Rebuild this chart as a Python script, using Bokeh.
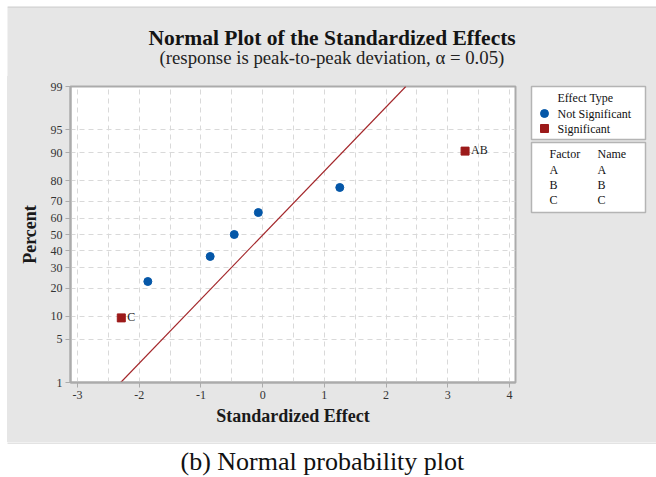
from statistics import NormalDist
from bokeh.plotting import figure
from bokeh.models import (Range1d, FixedTicker, CustomJSTickFormatter, ColumnDataSource,
                          LabelSet, Label)
from bokeh.layouts import column, row
from bokeh.embed import file_html
from bokeh.resources import INLINE

# ---------------- data ----------------
effect_names = ["C", "", "", "", "", "", "AB"]
effect_x = [-2.29, -1.86, -0.85, -0.46, -0.07, 1.25, 3.28]
effect_pct = [9.5, 23.0, 36.5, 50.0, 63.5, 77.0, 90.5]
effect_type = ["Significant", "Not Significant", "Not Significant", "Not Significant",
               "Not Significant", "Not Significant", "Significant"]

line_x = [-2.30, 2.32]
line_pct = [1.0, 99.0]

x_ticks = [-3, -2, -1, 0, 1, 2, 3, 4]
x_minor = [-2.5, -1.5, -0.5, 0.5, 1.5, 2.5, 3.5]
y_tick_pct = [1, 5, 10, 20, 30, 40, 50, 60, 70, 80, 90, 95, 99]
y_tick_labels = [str(v) for v in y_tick_pct]

legend_types = ["Not Significant", "Significant"]
factor_header = ["Factor", "Name"]
factor_codes = ["A", "B", "C"]
factor_names = ["A", "B", "C"]

title_text = "Normal Plot of the Standardized Effects"
subtitle_text = "(response is peak-to-peak deviation, \u03b1 = 0.05)"
caption_text = "(b) Normal probability plot"

# ---------------- helpers ----------------
nd = NormalDist()
def z(p):
    return nd.inv_cdf(p / 100.0)

FONT = "Liberation Serif"
BLUE = "#0557A8"
RED = "#9C1A1A"
GRID = "#D9D9D9"
AXIS = "#ABABAB"
PANEL = "#E6E6E6"
PANEL_EDGE = "#C8C8C8"

def blank(w, h, x0, y0, fill, margin):
    """A figure whose frame is its whole canvas; data units = page pixels."""
    f = figure(width=w, height=h, output_backend="svg", toolbar_location=None,
               x_axis_type=None, y_axis_type=None,
               x_range=Range1d(x0, x0 + w), y_range=Range1d(y0 + h, y0),
               min_border=0, min_border_left=0, min_border_right=0,
               min_border_top=0, min_border_bottom=0, frame_align=False)
    f.margin = margin
    f.outline_line_color = None
    f.border_fill_color = fill
    f.background_fill_color = fill
    f.xgrid.visible = False
    f.ygrid.visible = False
    return f

def txt(f, text, x, y, size, bold=False, color="#111111"):
    f.add_layout(Label(x=x, y=y, text=text, text_font=FONT, text_font_size=size,
                       text_font_style="bold" if bold else "normal",
                       text_align="left", text_baseline="middle", text_color=color))

# ---------------- title strip (page x 7..656, y 6..76) ----------------
top = blank(649, 70, 7, 6, PANEL, (6, 0, 0, 7))
top.line(x=[7, 656], y=[6.5, 6.5], line_color=PANEL_EDGE, line_width=1)
txt(top, title_text, 148, 37.5, "21.5px", bold=True, color="#141414")
txt(top, subtitle_text, 159, 56.5, "18.8px", color="#222222")

# ---------------- main plot (page x 7..517, y 76..442) ----------------
p = figure(width=510, height=366, output_backend="svg", toolbar_location=None,
           x_range=Range1d(-3.113, 4.097), y_range=Range1d(z(1), z(99)),
           min_border_left=63, min_border_right=2, min_border_top=10, min_border_bottom=60,
           frame_align=False)
p.border_fill_color = PANEL
p.background_fill_color = "white"
p.outline_line_color = AXIS
p.outline_line_width = 2

xa = p.xaxis[0]
ya = p.yaxis[0]
xa.ticker = FixedTicker(ticks=x_ticks, minor_ticks=x_minor)
xa.formatter = CustomJSTickFormatter(code="return String(Math.round(tick));")
ya.ticker = FixedTicker(ticks=[z(v) for v in y_tick_pct])
ya.formatter = CustomJSTickFormatter(args=dict(zs=[z(v) for v in y_tick_pct], labs=y_tick_labels), code="""
let best = 0; let bd = 1e9;
for (let i = 0; i < zs.length; i++) { const d = Math.abs(zs[i] - tick); if (d < bd) { bd = d; best = i; } }
return labs[best];
""")
for ax in (xa, ya):
    ax.axis_line_color = AXIS
    ax.axis_line_width = 2
    ax.major_tick_line_color = AXIS
    ax.major_tick_out = 5
    ax.major_tick_in = 0
    ax.minor_tick_line_color = None
    ax.major_label_text_font = FONT
    ax.major_label_text_font_size = "12px"
    ax.major_label_text_color = "#333333"
    ax.axis_label_text_font = FONT
    ax.axis_label_text_font_style = "bold"
    ax.axis_label_text_font_size = "18px"
    ax.axis_label_text_color = "#1a1a1a"
xa.axis_label = "Standardized Effect"
ya.axis_label = "Percent"
xa.major_label_standoff = 3
ya.major_label_standoff = 3
xa.axis_label_standoff = 4
ya.axis_label_standoff = 8
ya.major_label_orientation = "horizontal"

p.xgrid.grid_line_color = GRID
p.xgrid.grid_line_dash = "5 4"
p.xgrid.minor_grid_line_color = GRID
p.xgrid.minor_grid_line_dash = "5 4"
p.ygrid.grid_line_color = GRID
p.ygrid.grid_line_dash = "5 4"

p.line(x=line_x, y=[z(v) for v in line_pct], line_color="#A3262A", line_width=1.1)

ns = [i for i, k in enumerate(effect_type) if k == "Not Significant"]
sg = [i for i, k in enumerate(effect_type) if k == "Significant"]
p.scatter(x=[effect_x[i] for i in ns], y=[z(effect_pct[i]) for i in ns],
          marker="circle", size=8, fill_color=BLUE, line_color=BLUE)
p.scatter(x=[effect_x[i] for i in sg], y=[z(effect_pct[i]) for i in sg],
          marker="square", size=8, fill_color=RED, line_color=RED)
sig_src = ColumnDataSource(dict(x=[effect_x[i] for i in sg], y=[z(effect_pct[i]) for i in sg],
                                name=[effect_names[i] for i in sg]))
p.add_layout(LabelSet(x="x", y="y", text="name", source=sig_src, x_offset=6, y_offset=1,
                      text_align="left", text_baseline="middle", text_font=FONT,
                      text_font_size="12px", text_color="#222222"))

# ---------------- legend column (page x 517..656, y 76..442) ----------------
lg = blank(139, 366, 517, 76, PANEL, (0, 0, 0, 0))
lg.quad(left=[531, 531], right=[645, 645], top=[86, 142], bottom=[139, 212],
        fill_color="white", line_color="#B4B4B4", line_width=1.5)
txt(lg, "Effect Type", 557, 97, "12px")
txt(lg, legend_types[0], 557, 113, "12px")
txt(lg, legend_types[1], 557, 128, "12px")
lg.scatter(x=[544], y=[113], marker="circle", size=8, fill_color=BLUE, line_color=BLUE)
lg.scatter(x=[544], y=[128], marker="square", size=8, fill_color=RED, line_color=RED)
txt(lg, factor_header[0], 549, 153, "12px")
txt(lg, factor_header[1], 597, 153, "12px")
for i in range(len(factor_codes)):
    txt(lg, factor_codes[i], 549, 169 + 15 * i, "12px")
    txt(lg, factor_names[i], 597, 169 + 15 * i, "12px")

# ---------------- caption (page y 442..477) ----------------
cap = blank(656, 35, 0, 442, "white", (0, 0, 0, 0))
cap.line(x=[7, 656], y=[442.5, 442.5], line_color=PANEL_EDGE, line_width=1)
txt(cap, caption_text, 180, 461, "26px", color="#111111")

mid = row(p, lg, spacing=0, margin=(0, 0, 0, 7), styles={"background-color": PANEL})
layout = column(top, mid, cap, spacing=0)
open("out.html", "w").write(file_html(layout, INLINE))
